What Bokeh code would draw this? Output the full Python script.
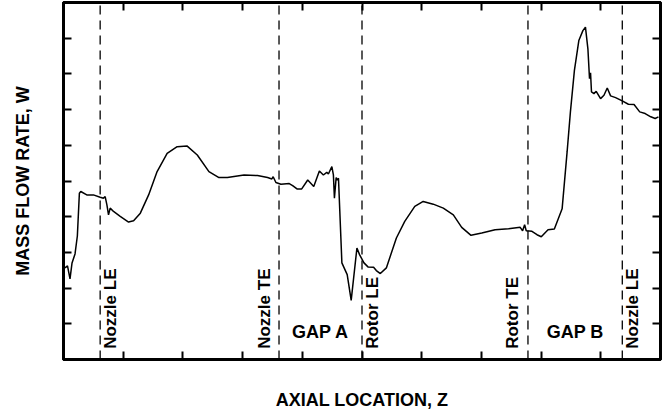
import math
from bokeh.plotting import figure
from bokeh.models import FixedTicker, LinearAxis, Range1d, ColumnDataSource, CustomJSTickFormatter
from bokeh.core.properties import value
from bokeh.embed import file_html
from bokeh.resources import INLINE

# ---- data (axial location Z, mass flow rate W) ----
z = [0.025, 0.067, 0.109, 0.143, 0.193, 0.232, 0.266, 0.289, 0.390, 0.501,
     0.614, 0.669, 0.698, 0.727, 0.754, 0.782, 0.838, 0.950, 1.090, 1.174,
     1.287, 1.426, 1.568, 1.736, 1.904, 2.072, 2.241, 2.436, 2.604, 2.745,
     3.024, 3.250, 3.418, 3.490, 3.512, 3.558, 3.642, 3.781, 3.838, 3.911,
     3.990, 4.091, 4.192, 4.286, 4.353, 4.410, 4.437, 4.495, 4.521, 4.538,
     4.567, 4.584, 4.606, 4.663, 4.752, 4.819, 4.915, 4.959, 5.033, 5.100,
     5.194, 5.240, 5.307, 5.408, 5.576, 5.716, 5.884, 6.025, 6.193, 6.362,
     6.530, 6.670, 6.826, 7.006, 7.230, 7.455, 7.650, 7.690, 7.724, 7.751,
     7.847, 7.931, 8.003, 8.116, 8.222, 8.352, 8.436, 8.491, 8.558, 8.632,
     8.700, 8.743, 8.784, 8.811, 8.828, 8.844, 8.885, 8.923, 8.996, 9.053,
     9.108, 9.164, 9.248, 9.359, 9.462, 9.557, 9.652, 9.743, 9.837, 9.911,
     9.966]
w = [2.566, 2.622, 2.259, 2.706, 2.957, 3.459, 4.658, 4.706, 4.611, 4.611,
     4.547, 4.519, 4.561, 4.332, 4.053, 4.240, 4.148, 4.008, 3.849, 3.886,
     4.100, 4.611, 5.264, 5.774, 5.961, 5.978, 5.727, 5.264, 5.096, 5.096,
     5.169, 5.152, 5.096, 5.057, 5.119, 4.957, 4.909, 4.929, 4.873, 4.778,
     4.778, 5.029, 4.845, 5.280, 5.169, 5.244, 5.197, 5.403, 5.169, 4.519,
     5.096, 5.029, 5.077, 2.706, 2.379, 1.654, 3.124, 2.937, 2.706, 2.594,
     2.586, 2.491, 2.407, 2.566, 3.403, 3.869, 4.287, 4.427, 4.351, 4.240,
     4.053, 3.702, 3.478, 3.543, 3.635, 3.662, 3.702, 3.607, 3.774, 3.607,
     3.590, 3.495, 3.439, 3.635, 3.654, 4.220, 5.821, 6.937, 8.098, 8.934,
     9.213, 9.308, 8.703, 7.866, 8.033, 7.495, 7.448, 7.512, 7.308, 7.400,
     7.607, 7.384, 7.336, 7.244, 7.149, 7.141, 6.937, 6.890, 6.798, 6.750,
     6.798]

# station lines and their labels
station_z = [0.614, 3.61, 5.0, 7.78, 9.36]
station_labels = ["Nozzle LE", "Nozzle TE", "Rotor LE", "Rotor TE", "Nozzle LE"]
station_side = ["right", "left", "right", "left", "right"]

gap_labels = ["GAP A", "GAP B"]
gap_z = [(station_z[1] + station_z[2]) / 2, (station_z[3] + station_z[4]) / 2]

x_ticks = list(range(0, 11))
y_ticks = list(range(0, 11))

FONT = "Liberation Sans"

p = figure(width=664, height=412, output_backend="svg", toolbar_location=None,
           x_range=Range1d(0, 10), y_range=Range1d(0, 10),
           min_border_left=63, min_border_right=4, min_border_top=2,
           min_border_bottom=50)
p.background_fill_color = "white"
p.border_fill_color = "white"
p.grid.visible = False
p.outline_line_color = "black"
p.outline_line_width = 3

# extra axes (ticks only) on right and top
p.add_layout(LinearAxis(), "right")
p.add_layout(LinearAxis(), "above")

for ax in p.xaxis:
    ax.ticker = FixedTicker(ticks=x_ticks)
for ax in p.yaxis:
    ax.ticker = FixedTicker(ticks=y_ticks)

blank = CustomJSTickFormatter(code="return '';")
for ax in p.axis:
    ax.axis_line_width = 3
    ax.axis_line_color = "black"
    ax.major_tick_in = 8
    ax.major_tick_out = 0
    ax.major_tick_line_width = 2
    ax.minor_tick_line_color = None
    ax.formatter = blank
    ax.major_label_text_font_size = "0px"
    ax.major_label_standoff = 0

p.below[0].axis_label = "AXIAL LOCATION, Z"
p.left[0].axis_label = "MASS FLOW RATE, W"
for ax in (p.below[0], p.left[0]):
    ax.axis_label_text_font = FONT
    ax.axis_label_text_font_style = "bold"
    ax.axis_label_text_font_size = "18px"
    ax.axis_label_text_color = "black"
p.below[0].axis_label_standoff = 30
p.left[0].axis_label_standoff = 31

# dashed station lines
p.segment(x0=station_z, y0=[0] * len(station_z), x1=station_z, y1=[10] * len(station_z),
          line_color="black", line_width=1.3, line_dash="9 6")

# measured curve
p.line(z, w, line_color="black", line_width=1.5)

# rotated station labels
offs = [10.5 if s == "right" else -15 for s in station_side]
src = ColumnDataSource(dict(x=station_z, y=[0.3] * len(station_z), t=station_labels, xo=offs))
p.text(x="x", y="y", text="t", x_offset="xo", angle=math.pi / 2, source=src,
       text_align="left", text_baseline="alphabetic",
       text_font=value(FONT), text_font_style="bold", text_font_size="17px",
       text_color="black")

p.text(x=gap_z, y=[0.78, 0.78], text=gap_labels, text_align="center",
       text_baseline="alphabetic", text_font=value(FONT), text_font_style="bold",
       text_font_size="18px", text_color="black")

open("out.html", "w").write(file_html(p, INLINE))
